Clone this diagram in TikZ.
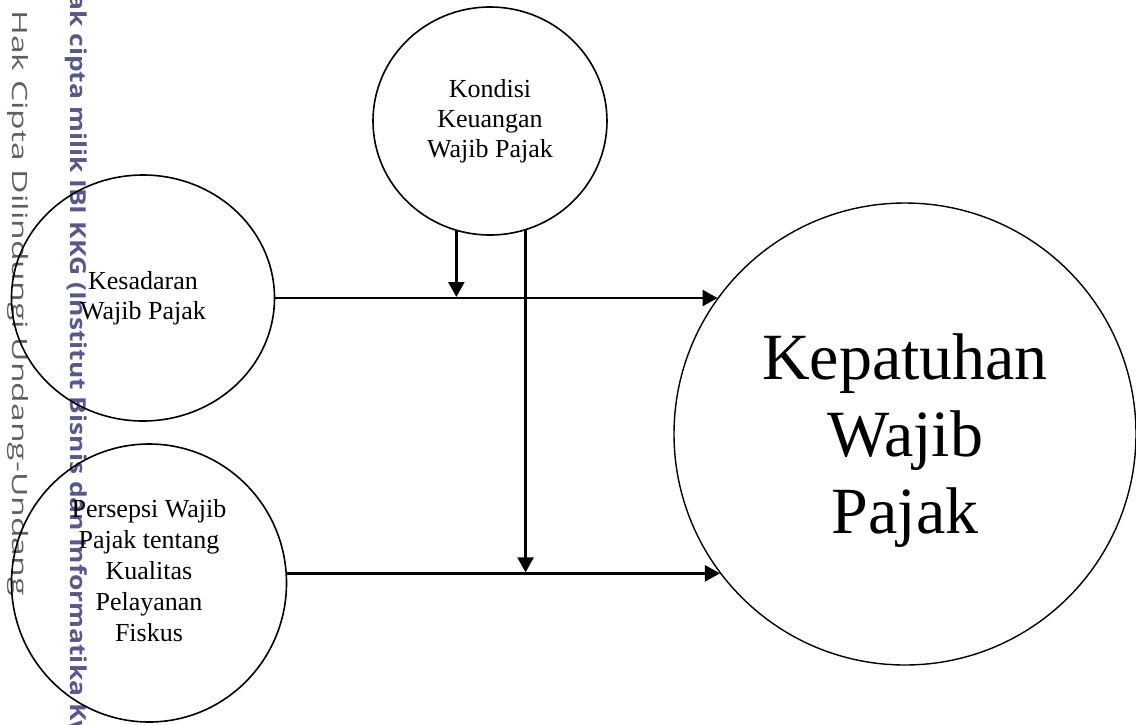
\documentclass[tikz,border=0pt]{standalone}
\usepackage{fontspec}
\setmainfont{Liberation Serif}
\newfontfamily\wmfont{Open Sans}
\usepackage{tikz}
\usetikzlibrary{shapes.geometric, arrows.meta, positioning}

\definecolor{wmgray}{RGB}{95,95,95}
\definecolor{wmpurple}{RGB}{88,88,145}

\begin{document}
\begin{tikzpicture}[
  x=1pt, y=-1pt,
  var/.style={ellipse, draw, line width=1.6pt, inner sep=0pt, align=center,
    font=\fontsize{26}{30}\selectfont},
  arr/.style={line width=2.4pt, -{Triangle[length=15pt, width=16pt]}},
  wm/.style={anchor=west, rotate=-90, inner sep=0pt}
]
  \useasboundingbox (0,0) rectangle (1136,724);

  % watermark
  \begin{scope}
    \clip (0,0) rectangle (1136,724);
    \node[wm, xscale=1.6, text=wmgray, font=\wmfont\fontsize{21}{21}\selectfont]
      (wmHak) at (18,10) {Hak Cipta Dilindungi Undang-Undang};
    \node[wm, xscale=1.2, text=wmpurple, font=\wmfont\bfseries\fontsize{22}{22}\selectfont]
      (wmIbi) at (76,-26) {Hak cipta milik IBI KKG (Institut Bisnis dan Informatika Kwik Kian Gie)};
  \end{scope}

  % variables
  \node[var, minimum width=234pt, minimum height=228pt] (kondisi) at (490,121)
    {Kondisi\\Keuangan\\Wajib Pajak};
  \node[var, minimum width=263pt, minimum height=246pt] (kesadaran) at (143,298)
    {Kesadaran\\Wajib Pajak};
  \node[var, minimum width=275pt, minimum height=278pt,
    label={[name=persepsiText, align=center, yshift=12pt, font=\fontsize{26}{31}\selectfont]center:{Persepsi Wajib\\Pajak tentang\\Kualitas\\Pelayanan\\Fiskus}}]
    (persepsi) at (149,583) {};
  \node[var, line width=1.4pt, minimum size=462pt,
    label={[name=kepatuhanText, align=center, yshift=-7pt, font=\fontsize{66}{77}\selectfont]center:{Kepatuhan\\Wajib\\Pajak}}]
    (kepatuhan) at (905,434) {};

  % links
  \draw[arr] (kesadaran.east) -- (kesadaran.east -| kepatuhan.144);
  \draw[arr] (persepsi.4) -- (persepsi.4 -| kepatuhan.217);
  \draw[arr, shorten >=1pt] (kondisi.253) -- (kondisi.253 |- kesadaran.east);
  \draw[arr, shorten >=1pt] (kondisi.288) -- (kondisi.288 |- persepsi.4);
\end{tikzpicture}
\end{document}
